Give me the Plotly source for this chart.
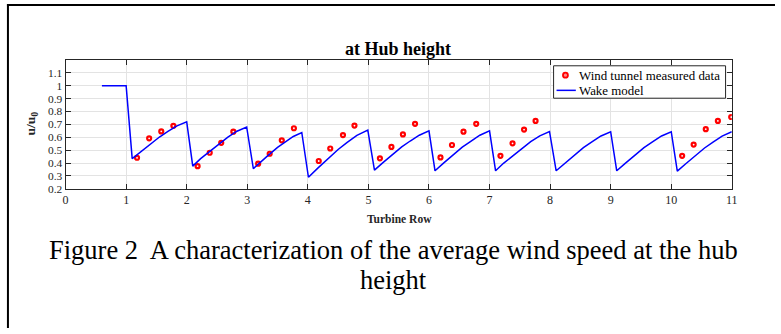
import plotly.graph_objects as go

# ---- data ----
meas_x = [1.18, 1.38, 1.58, 1.78,
          2.18, 2.38, 2.57, 2.77,
          3.18, 3.37, 3.57, 3.77,
          4.18, 4.37, 4.58, 4.77,
          5.19, 5.38, 5.57, 5.77,
          6.19, 6.38, 6.57, 6.78,
          7.18, 7.38, 7.57, 7.76,
          10.18, 10.37, 10.57, 10.77, 10.99]
meas_y = [0.441, 0.592, 0.645, 0.689,
          0.376, 0.480, 0.557, 0.643,
          0.395, 0.472, 0.576, 0.670,
          0.416, 0.513, 0.617, 0.691,
          0.437, 0.525, 0.622, 0.704,
          0.444, 0.540, 0.643, 0.704,
          0.456, 0.553, 0.660, 0.727,
          0.456, 0.543, 0.663, 0.727, 0.757]

wake_x = [0.60, 1.00,
          1.10, 1.24, 1.37, 1.55, 1.69, 1.84, 2.00,
          2.10, 2.23, 2.37, 2.55, 2.68, 2.83, 2.99,
          3.10, 3.22, 3.34, 3.50, 3.62, 3.76, 3.90,
          4.01, 4.16, 4.30, 4.50, 4.65, 4.81, 4.99,
          5.10, 5.24, 5.37, 5.55, 5.69, 5.84, 6.00,
          6.10, 6.24, 6.37, 6.55, 6.69, 6.84, 7.00,
          7.10, 7.23, 7.37, 7.55, 7.68, 7.83, 7.99,
          8.10, 8.24, 8.37, 8.55, 8.69, 8.84, 9.00,
          9.10, 9.24, 9.37, 9.55, 9.69, 9.84, 10.00,
          10.10, 10.24, 10.37, 10.55, 10.69, 10.84, 11.00]
wake_y = [1.000, 1.000,
          0.434, 0.488, 0.537, 0.602, 0.645, 0.688, 0.719,
          0.376, 0.434, 0.485, 0.555, 0.601, 0.647, 0.680,
          0.357, 0.410, 0.458, 0.522, 0.564, 0.606, 0.637,
          0.290, 0.359, 0.421, 0.505, 0.560, 0.615, 0.655,
          0.345, 0.403, 0.455, 0.525, 0.571, 0.616, 0.650,
          0.340, 0.399, 0.452, 0.523, 0.569, 0.616, 0.650,
          0.340, 0.398, 0.450, 0.520, 0.566, 0.611, 0.645,
          0.340, 0.398, 0.449, 0.519, 0.564, 0.610, 0.643,
          0.340, 0.398, 0.449, 0.519, 0.564, 0.610, 0.643,
          0.337, 0.395, 0.447, 0.517, 0.563, 0.609, 0.643]

x_ticks = list(range(0, 12))
y_ticks = [0.2, 0.3, 0.4, 0.5, 0.6, 0.7, 0.8, 0.9, 1.0, 1.1]
y_tick_text = ["0.2", "0.3", "0.4", "0.5", "0.6", "0.7", "0.8", "0.9", "1", "1.1"]

series_names = ["Wind tunnel measured data", "Wake model"]
title_text = "at Hub height"
x_title = "Turbine Row"
y_title = "u/u<sub>0</sub>"
caption1 = "Figure 2  A characterization of the average wind speed at the hub"
caption2 = "height"

W, H = 781, 334
SERIF = "Liberation Serif, Times New Roman, serif"
AX = "#262626"
RED = "#ff0000"
BLUE = "#0000ff"

def px(x):
    return x / W

def py(y):
    return (H - y) / H

fig = go.Figure()
fig.add_trace(go.Scatter(
    x=meas_x, y=meas_y, mode="markers", name=series_names[0],
    marker=dict(symbol="circle-open", size=4, color=RED,
                line=dict(color=RED, width=2.2)),
))
fig.add_trace(go.Scatter(
    x=wake_x, y=wake_y, mode="lines", name=series_names[1],
    line=dict(color=BLUE, width=1.5),
))

axis_common = dict(
    showline=True, linecolor=AX, linewidth=1, mirror="ticks",
    ticks="inside", ticklen=5, tickcolor=AX, tickwidth=1,
    showgrid=True, gridcolor="#e3e3e3", gridwidth=1, zeroline=False,
)

def ann(text, x, y, size, color="black", **kw):
    d = dict(text=text, x=px(x), y=py(y), xref="paper", yref="paper",
             showarrow=False, xanchor="center", yanchor="middle",
             font=dict(family=SERIF, size=size, color=color))
    d.update(kw)
    return d

# legend box (drawn manually to match compact MATLAB legend)
LX0, LX1, LY0, LY1 = 557, 731, 67, 100
R1, R2 = 76.5, 92

fig.update_layout(
    width=W, height=H,
    margin=dict(l=0, r=0, t=0, b=0),
    paper_bgcolor="white", plot_bgcolor="white",
    showlegend=False,
    xaxis=dict(axis_common, domain=[px(63.3), px(737.3)], range=[0, 11],
               tickvals=x_ticks,
               tickfont=dict(family=SERIF, size=12, color=AX)),
    yaxis=dict(axis_common, domain=[py(192.3), py(61)], range=[0.2, 1.2],
               tickvals=y_ticks, ticktext=y_tick_text,
               tickfont=dict(family=SERIF, size=11.4, color=AX)),
    shapes=[
        dict(type="line", xref="paper", yref="paper",
             x0=px(4), x1=1, y0=py(5), y1=py(5),
             line=dict(color="black", width=2)),
        dict(type="line", xref="paper", yref="paper",
             x0=px(5), x1=px(5), y0=0, y1=py(4),
             line=dict(color="black", width=2)),
        dict(type="rect", xref="paper", yref="paper",
             x0=px(LX0), x1=px(LX1), y0=py(LY1), y1=py(LY0),
             line=dict(color=AX, width=1), fillcolor="white", layer="above"),
        dict(type="circle", xref="paper", yref="paper",
             x0=px(566.5), x1=px(571.5), y0=py(R1 + 2.5), y1=py(R1 - 2.5),
             line=dict(color=RED, width=1.8), fillcolor="rgba(255,140,140,1)",
             layer="above"),
        dict(type="line", xref="paper", yref="paper",
             x0=px(560), x1=px(579.5), y0=py(R2), y1=py(R2),
             line=dict(color=BLUE, width=1.5), layer="above"),
    ],
    annotations=[
        ann("<b>" + title_text + "</b>", 400, 49.5, 18),
        ann("<b>" + x_title + "</b>", 401, 223, 11.5, AX),
        ann("<b>" + y_title + "</b>", 29, 126, 13.5, AX, textangle=-90),
        ann(caption1, 395, 255, 26.5),
        ann(caption2, 395, 285, 26.5),
        ann(series_names[0], 581, R1 + 0.5, 12.9, "black", xanchor="left"),
        ann(series_names[1], 581, R2 + 0.5, 12.9, "black", xanchor="left"),
    ],
)

fig.write_html("out.html")
